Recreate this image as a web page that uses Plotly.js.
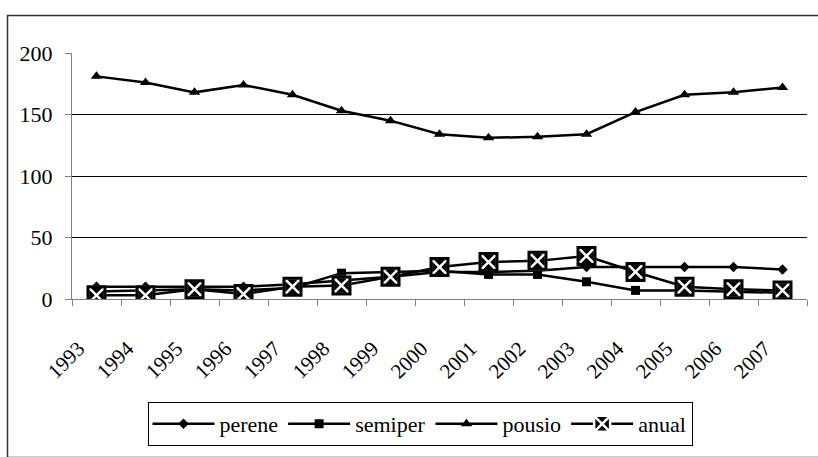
<!DOCTYPE html>
<html><head><meta charset="utf-8">
<script src="https://cdn.plot.ly/plotly-3.0.1.min.js"></script>
<style>body{margin:0;background:#fff}#c{width:818px;height:457px}</style>
</head><body><div id="c"></div>
<script>
var years = ["1993","1994","1995","1996","1997","1998","1999","2000","2001","2002","2003","2004","2005","2006","2007"];
var perene  = [10, 10, 10, 10, 12, 15, 18, 22, 22, 23, 26, 26, 26, 26, 24];
var semiper = [6, 7, 8, 7, 9, 21, 22, 23, 20, 20, 14, 7, 7, 6, 5];
var pousio  = [181, 176, 168, 174, 166, 153, 145, 134, 131, 132, 134, 152, 166, 168, 172];
var anual   = [3, 3, 8, 4, 10, 11, 18, 26, 30, 31, 35, 22, 10, 8, 7];

var fam = "Liberation Serif";
var font = {family: fam, size: 22, color: "#000"};
var ln = {color: "#000", width: 2.5};
var traces = [
  {x: years, y: perene, name: "perene", mode: "lines+markers", line: ln,
   marker: {symbol: "diamond", size: 8, color: "#000"}},
  {x: years, y: semiper, name: "semiper", mode: "lines+markers", line: ln,
   marker: {symbol: "square", size: 9, color: "#000"}},
  {x: years, y: pousio, name: "pousio", mode: "lines+markers", line: ln,
   marker: {symbol: "triangle-up", size: 10, color: "#000"}},
  {x: years, y: anual, name: "anual", mode: "lines+markers", line: ln, legendgroup: "a",
   marker: {symbol: "square-x", size: 17, color: "#000", line: {color: "#fff", width: 2.5}}},
  {x: years, y: anual, name: "anual", mode: "markers", legendgroup: "a", showlegend: false,
   marker: {symbol: "square-open", size: 17, color: "#000", line: {color: "#000", width: 3}}}
];
var W = 735, H = 250;
var layout = {
  width: 818, height: 457,
  margin: {l: 72, r: 11, t: 53, b: 154},
  paper_bgcolor: "#fff", plot_bgcolor: "#fff",
  font: font,
  showlegend: true,
  legend: {orientation: "h", x: (420 - 72) / W, y: (303 - 430) / H, xanchor: "center", yanchor: "middle",
           bordercolor: "#000", borderwidth: 1, bgcolor: "#fff", font: font,
           itemwidth: 62, tracegroupgap: 0},
  xaxis: {type: "category", range: [-0.5, 14.5], tickson: "boundaries",
          ticks: "outside", ticklen: 6, tickcolor: "#808080",
          showline: true, linecolor: "#808080", linewidth: 1,
          showgrid: false, tickangle: -45, tickfont: {family: fam, size: 21, color: "#000"},
          ticklabelshift: -18, ticklabelstandoff: 28},
  yaxis: {range: [0, 200], dtick: 50, ticks: "outside", ticklen: 6, tickcolor: "#808080",
          showline: true, linecolor: "#808080", linewidth: 1,
          showgrid: true, gridcolor: "#000", gridwidth: 1, zeroline: false,
          tickfont: font, ticklabelstandoff: 8},
  shapes: [{type: "rect", xref: "paper", yref: "paper",
            x0: (7.5 - 72) / W, x1: (826 - 72) / W, y0: (303 - 464) / H, y1: 1 + (53 - 15) / H,
            line: {color: "#333", width: 1.5}, fillcolor: "rgba(0,0,0,0)", layer: "below"}]
};
Plotly.newPlot("c", traces, layout, {displayModeBar: false, staticPlot: true});
</script></body></html>
